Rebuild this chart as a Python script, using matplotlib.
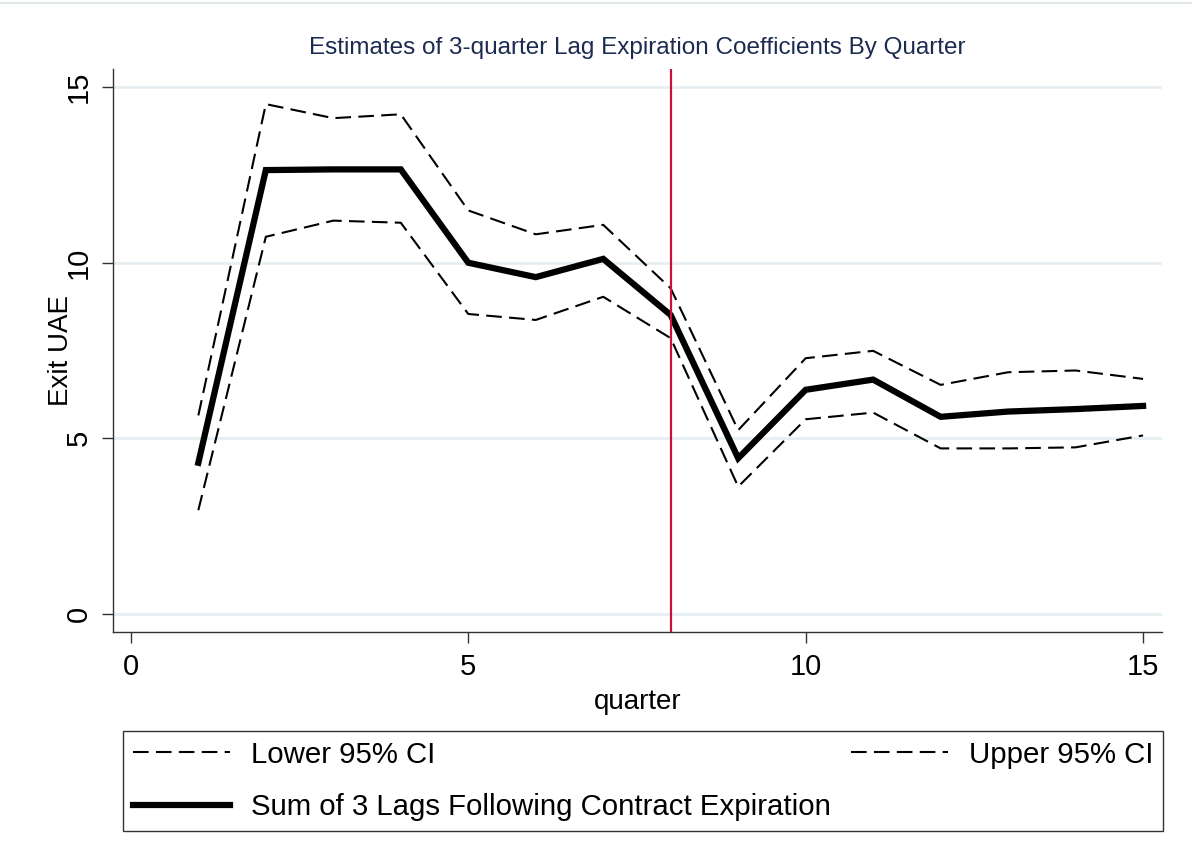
import matplotlib
matplotlib.use("Agg")
import matplotlib.pyplot as plt
from matplotlib.lines import Line2D

plt.rcParams["font.family"] = ["Liberation Sans", "DejaVu Sans"]

# quarter index and estimates
quarter = [1, 2, 3, 4, 5, 6, 7, 8, 9, 10, 11, 12, 13, 14, 15]
lag_sum = [4.30, 12.64, 12.66, 12.66, 10.00, 9.59, 10.11, 8.51,
           4.43, 6.38, 6.67, 5.61, 5.76, 5.83, 5.92]
upper_ci = [5.65, 14.52, 14.12, 14.23, 11.49, 10.81, 11.08, 9.27,
            5.23, 7.28, 7.49, 6.52, 6.88, 6.93, 6.69]
lower_ci = [2.95, 10.74, 11.20, 11.14, 8.54, 8.37, 9.03, 7.85,
            3.62, 5.54, 5.73, 4.71, 4.71, 4.74, 5.08]
expiration_q = 8

xticks = [0, 5, 10, 15]
yticks = [0, 5, 10, 15]

fig = plt.figure(figsize=(11.92, 8.67), dpi=100)
ax = fig.add_axes([0.0945, 0.2707, 0.8803, 0.6497])

for y in yticks:
    ax.axhline(y, color="#e7eff2", lw=2, zorder=0)

dash = (7.5, 3.5)
l_lo, = ax.plot(quarter, lower_ci, color="black", lw=1.5, dashes=dash,
                label="Lower 95% CI")
l_up, = ax.plot(quarter, upper_ci, color="black", lw=1.5, dashes=dash,
                label="Upper 95% CI")
l_sum, = ax.plot(quarter, lag_sum, color="black", lw=4.5,
                 solid_joinstyle="miter",
                 label="Sum of 3 Lags Following Contract Expiration")
ax.axvline(expiration_q, color="#c8123c", lw=1.6)

ax.set_xlim(-0.27, 15.28)
ax.set_ylim(-0.53, 15.52)
ax.set_xticks(xticks)
ax.set_yticks(yticks)
ax.tick_params(axis="both", direction="out", length=8, width=1,
               color="#333333", labelsize=21, pad=7)
ax.tick_params(axis="y", labelrotation=90, pad=6)
for lab in ax.get_yticklabels():
    lab.set_verticalalignment("center")

for side in ("top", "right"):
    ax.spines[side].set_visible(False)
for side in ("left", "bottom"):
    ax.spines[side].set_color("#333333")
    ax.spines[side].set_linewidth(1)

ax.set_xlabel("quarter", fontsize=20, labelpad=6)
ax.set_ylabel("Exit UAE", fontsize=20, labelpad=-6)
ax.set_title("Estimates of 3-quarter Lag Expiration Coefficients By Quarter",
             fontsize=17.5, color="#1c2b50", pad=11)

fig.legend(handles=[l_lo, l_sum, l_up], ncol=2, mode="expand",
           loc="upper left", bbox_to_anchor=(0.1032, 0.0458, 0.8725, 0.1111),
           borderaxespad=0, fontsize=21.2, handlelength=3.3,
           handletextpad=0.72, labelspacing=0.82, borderpad=0.33,
           fancybox=False, edgecolor="#333333", framealpha=1)

# thin frame line across the top of the graph region
fig.add_artist(Line2D([0, 1], [0.9969, 0.9969], color="#e3eaed", lw=1.5,
                      transform=fig.transFigure))

fig.savefig("out.png", dpi=100)
